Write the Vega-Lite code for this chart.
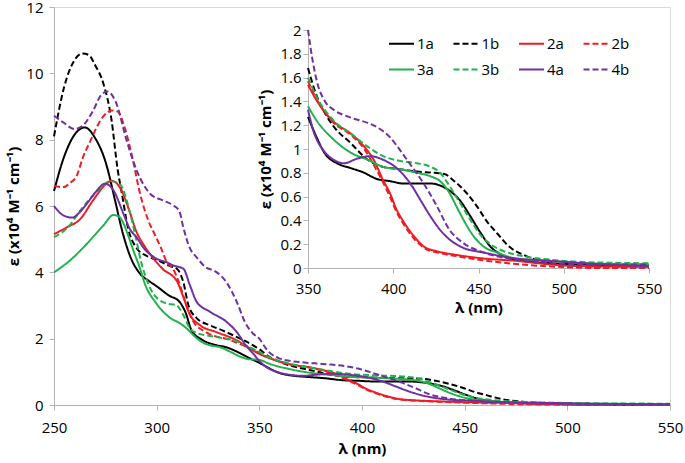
{
  "$schema": "https://vega.github.io/schema/vega-lite/v6.json",
  "width": 616,
  "height": 398,
  "autosize": {"type": "none"},
  "padding": {"left": 54, "top": 7, "right": 15, "bottom": 58},
  "background": "white",
  "config": {
    "view": {"stroke": "#d9d9d9", "strokeWidth": 1},
    "axis": {
      "domainColor": "#b3b3b3", "tickColor": "#b3b3b3", "tickSize": 5, "grid": false,
      "labelColor": "#000000", "labelFont": "Open Sans", "labelFontSize": 15,
      "titleFont": "Open Sans", "titleFontSize": 15, "titleFontWeight": "bold", "titleColor": "#000000",
      "labelFlush": false, "labelOverlap": false
    },
    "legend": {"labelFont": "Open Sans", "labelFontSize": 15, "labelColor": "#000000"}
  },
  "data": {"values": [
    {"s":"1a","x":250,"y":6.45},{"s":"1a","x":255,"y":7.5},{"s":"1a","x":260,"y":8.15},{"s":"1a","x":265,"y":8.37},{"s":"1a","x":270,"y":8.05},{"s":"1a","x":275,"y":7.35},{"s":"1a","x":280,"y":6.1},{"s":"1a","x":283,"y":5.3},{"s":"1a","x":287,"y":4.5},{"s":"1a","x":292,"y":3.95},{"s":"1a","x":296,"y":3.75},{"s":"1a","x":300,"y":3.58},{"s":"1a","x":306,"y":3.3},{"s":"1a","x":311,"y":3.12},{"s":"1a","x":314,"y":2.8},{"s":"1a","x":317,"y":2.25},{"s":"1a","x":322,"y":1.97},{"s":"1a","x":328,"y":1.82},{"s":"1a","x":334,"y":1.74},{"s":"1a","x":340,"y":1.58},{"s":"1a","x":345,"y":1.42},{"s":"1a","x":350,"y":1.27},{"s":"1a","x":355,"y":1.1},{"s":"1a","x":360,"y":0.96},{"s":"1a","x":367,"y":0.88},{"s":"1a","x":375,"y":0.84},{"s":"1a","x":383,"y":0.8},{"s":"1a","x":390,"y":0.75},{"s":"1a","x":398,"y":0.73},{"s":"1a","x":406,"y":0.71},{"s":"1a","x":414,"y":0.71},{"s":"1a","x":422,"y":0.71},{"s":"1a","x":428,"y":0.69},{"s":"1a","x":433,"y":0.65},{"s":"1a","x":439,"y":0.57},{"s":"1a","x":445,"y":0.44},{"s":"1a","x":451,"y":0.3},{"s":"1a","x":457,"y":0.18},{"s":"1a","x":465,"y":0.1},{"s":"1a","x":476,"y":0.06},{"s":"1a","x":492,"y":0.04},{"s":"1a","x":512,"y":0.03},{"s":"1a","x":550,"y":0.015},
    {"s":"1b","x":250,"y":8.1},{"s":"1b","x":255,"y":9.6},{"s":"1b","x":260,"y":10.4},{"s":"1b","x":264,"y":10.6},{"s":"1b","x":267,"y":10.55},{"s":"1b","x":270,"y":10.25},{"s":"1b","x":274,"y":9.7},{"s":"1b","x":278,"y":8.6},{"s":"1b","x":281,"y":7.1},{"s":"1b","x":283,"y":6.4},{"s":"1b","x":286,"y":5.35},{"s":"1b","x":290,"y":4.75},{"s":"1b","x":295,"y":4.5},{"s":"1b","x":301,"y":4.35},{"s":"1b","x":306,"y":4.2},{"s":"1b","x":310,"y":4.1},{"s":"1b","x":313,"y":3.7},{"s":"1b","x":315.5,"y":3.0},{"s":"1b","x":319.5,"y":2.62},{"s":"1b","x":326,"y":2.4},{"s":"1b","x":332,"y":2.25},{"s":"1b","x":338,"y":2.08},{"s":"1b","x":344,"y":1.9},{"s":"1b","x":350,"y":1.68},{"s":"1b","x":355,"y":1.45},{"s":"1b","x":360,"y":1.3},{"s":"1b","x":365,"y":1.19},{"s":"1b","x":375,"y":1.05},{"s":"1b","x":385,"y":0.91},{"s":"1b","x":394,"y":0.85},{"s":"1b","x":404,"y":0.83},{"s":"1b","x":414,"y":0.81},{"s":"1b","x":424,"y":0.8},{"s":"1b","x":430,"y":0.79},{"s":"1b","x":435,"y":0.74},{"s":"1b","x":443,"y":0.63},{"s":"1b","x":449,"y":0.52},{"s":"1b","x":455,"y":0.39},{"s":"1b","x":461,"y":0.29},{"s":"1b","x":468,"y":0.18},{"s":"1b","x":478,"y":0.1},{"s":"1b","x":492,"y":0.04},{"s":"1b","x":511,"y":0.015},{"s":"1b","x":530,"y":0.01},{"s":"1b","x":550,"y":0.01},
    {"s":"2a","x":250,"y":5.15},{"s":"2a","x":256,"y":5.35},{"s":"2a","x":263,"y":5.62},{"s":"2a","x":269,"y":6.17},{"s":"2a","x":275.5,"y":6.67},{"s":"2a","x":278,"y":6.76},{"s":"2a","x":282,"y":6.57},{"s":"2a","x":287,"y":5.8},{"s":"2a","x":290,"y":5.25},{"s":"2a","x":294,"y":4.8},{"s":"2a","x":298,"y":4.45},{"s":"2a","x":303,"y":4.1},{"s":"2a","x":310,"y":3.72},{"s":"2a","x":313,"y":3.25},{"s":"2a","x":316,"y":2.75},{"s":"2a","x":321,"y":2.41},{"s":"2a","x":329,"y":2.2},{"s":"2a","x":339,"y":1.95},{"s":"2a","x":345,"y":1.72},{"s":"2a","x":350,"y":1.54},{"s":"2a","x":355,"y":1.41},{"s":"2a","x":365,"y":1.23},{"s":"2a","x":375,"y":1.13},{"s":"2a","x":383,"y":1.02},{"s":"2a","x":388.5,"y":0.91},{"s":"2a","x":394,"y":0.74},{"s":"2a","x":398,"y":0.63},{"s":"2a","x":402,"y":0.49},{"s":"2a","x":406,"y":0.39},{"s":"2a","x":412,"y":0.27},{"s":"2a","x":418,"y":0.18},{"s":"2a","x":426,"y":0.14},{"s":"2a","x":437,"y":0.11},{"s":"2a","x":453,"y":0.08},{"s":"2a","x":472,"y":0.06},{"s":"2a","x":492,"y":0.03},{"s":"2a","x":510,"y":0.015},{"s":"2a","x":550,"y":0.01},
    {"s":"2b","x":250,"y":6.6},{"s":"2b","x":254.5,"y":6.57},{"s":"2b","x":258,"y":6.7},{"s":"2b","x":261,"y":6.9},{"s":"2b","x":264,"y":7.45},{"s":"2b","x":268,"y":8.0},{"s":"2b","x":271,"y":8.4},{"s":"2b","x":274,"y":8.7},{"s":"2b","x":278,"y":8.88},{"s":"2b","x":281,"y":8.85},{"s":"2b","x":284,"y":8.45},{"s":"2b","x":288,"y":7.5},{"s":"2b","x":292,"y":6.35},{"s":"2b","x":296,"y":5.55},{"s":"2b","x":299,"y":5.15},{"s":"2b","x":302,"y":4.75},{"s":"2b","x":305,"y":4.3},{"s":"2b","x":308,"y":4.1},{"s":"2b","x":311.4,"y":3.6},{"s":"2b","x":314,"y":3.1},{"s":"2b","x":318,"y":2.5},{"s":"2b","x":324,"y":2.2},{"s":"2b","x":336,"y":1.95},{"s":"2b","x":344,"y":1.75},{"s":"2b","x":350,"y":1.57},{"s":"2b","x":355,"y":1.42},{"s":"2b","x":365,"y":1.22},{"s":"2b","x":375,"y":1.12},{"s":"2b","x":383,"y":1.0},{"s":"2b","x":388,"y":0.88},{"s":"2b","x":394,"y":0.72},{"s":"2b","x":398,"y":0.6},{"s":"2b","x":402,"y":0.47},{"s":"2b","x":406,"y":0.37},{"s":"2b","x":412,"y":0.25},{"s":"2b","x":418,"y":0.17},{"s":"2b","x":426,"y":0.13},{"s":"2b","x":437,"y":0.1},{"s":"2b","x":450,"y":0.07},{"s":"2b","x":475,"y":0.03},{"s":"2b","x":500,"y":0.008},{"s":"2b","x":520,"y":0.0},{"s":"2b","x":550,"y":0.0},
    {"s":"3a","x":250,"y":4.0},{"s":"3a","x":257.8,"y":4.36},{"s":"3a","x":266,"y":4.86},{"s":"3a","x":274,"y":5.41},{"s":"3a","x":279,"y":5.73},{"s":"3a","x":282,"y":5.66},{"s":"3a","x":285,"y":5.3},{"s":"3a","x":287,"y":4.96},{"s":"3a","x":289,"y":4.6},{"s":"3a","x":292,"y":4.1},{"s":"3a","x":294,"y":3.7},{"s":"3a","x":300,"y":3.05},{"s":"3a","x":306.5,"y":2.63},{"s":"3a","x":311.4,"y":2.46},{"s":"3a","x":314.6,"y":2.31},{"s":"3a","x":318,"y":2.1},{"s":"3a","x":322,"y":1.9},{"s":"3a","x":326,"y":1.8},{"s":"3a","x":331,"y":1.74},{"s":"3a","x":336,"y":1.6},{"s":"3a","x":341,"y":1.45},{"s":"3a","x":345,"y":1.38},{"s":"3a","x":350,"y":1.36},{"s":"3a","x":355,"y":1.24},{"s":"3a","x":365,"y":1.08},{"s":"3a","x":375,"y":0.97},{"s":"3a","x":385,"y":0.91},{"s":"3a","x":394,"y":0.85},{"s":"3a","x":404,"y":0.83},{"s":"3a","x":414,"y":0.8},{"s":"3a","x":422,"y":0.77},{"s":"3a","x":427.5,"y":0.73},{"s":"3a","x":433,"y":0.63},{"s":"3a","x":437,"y":0.52},{"s":"3a","x":441,"y":0.41},{"s":"3a","x":447,"y":0.27},{"s":"3a","x":453,"y":0.18},{"s":"3a","x":461,"y":0.13},{"s":"3a","x":472,"y":0.08},{"s":"3a","x":492,"y":0.06},{"s":"3a","x":512,"y":0.04},{"s":"3a","x":550,"y":0.03},
    {"s":"3b","x":250,"y":5.06},{"s":"3b","x":256,"y":5.31},{"s":"3b","x":264,"y":5.96},{"s":"3b","x":272.4,"y":6.52},{"s":"3b","x":277.3,"y":6.75},{"s":"3b","x":282,"y":6.67},{"s":"3b","x":287,"y":5.8},{"s":"3b","x":290,"y":5.0},{"s":"3b","x":292.5,"y":4.3},{"s":"3b","x":295,"y":3.8},{"s":"3b","x":298.4,"y":3.35},{"s":"3b","x":304.9,"y":3.06},{"s":"3b","x":309.7,"y":3.01},{"s":"3b","x":313,"y":2.71},{"s":"3b","x":316.2,"y":2.31},{"s":"3b","x":320,"y":2.16},{"s":"3b","x":327,"y":2.07},{"s":"3b","x":339,"y":1.92},{"s":"3b","x":345,"y":1.75},{"s":"3b","x":350,"y":1.6},{"s":"3b","x":355,"y":1.44},{"s":"3b","x":365,"y":1.24},{"s":"3b","x":375,"y":1.13},{"s":"3b","x":385,"y":1.02},{"s":"3b","x":394,"y":0.94},{"s":"3b","x":404,"y":0.9},{"s":"3b","x":414,"y":0.88},{"s":"3b","x":422,"y":0.85},{"s":"3b","x":427.5,"y":0.8},{"s":"3b","x":433,"y":0.69},{"s":"3b","x":439,"y":0.55},{"s":"3b","x":445,"y":0.41},{"s":"3b","x":451,"y":0.28},{"s":"3b","x":457,"y":0.2},{"s":"3b","x":465,"y":0.14},{"s":"3b","x":476,"y":0.1},{"s":"3b","x":492,"y":0.07},{"s":"3b","x":512,"y":0.05},{"s":"3b","x":550,"y":0.04},
    {"s":"4a","x":250,"y":6.0},{"s":"4a","x":254.5,"y":5.72},{"s":"4a","x":259,"y":5.65},{"s":"4a","x":262,"y":5.78},{"s":"4a","x":266,"y":6.07},{"s":"4a","x":270,"y":6.4},{"s":"4a","x":274.8,"y":6.67},{"s":"4a","x":279,"y":6.47},{"s":"4a","x":283.8,"y":5.77},{"s":"4a","x":287,"y":5.3},{"s":"4a","x":290.3,"y":5.05},{"s":"4a","x":293.5,"y":4.75},{"s":"4a","x":300,"y":4.41},{"s":"4a","x":305,"y":4.3},{"s":"4a","x":308,"y":4.21},{"s":"4a","x":313,"y":4.11},{"s":"4a","x":316.2,"y":3.61},{"s":"4a","x":319.5,"y":3.11},{"s":"4a","x":326,"y":2.81},{"s":"4a","x":334,"y":2.51},{"s":"4a","x":339,"y":2.2},{"s":"4a","x":344,"y":1.75},{"s":"4a","x":347,"y":1.55},{"s":"4a","x":350,"y":1.33},{"s":"4a","x":353,"y":1.16},{"s":"4a","x":359,"y":0.99},{"s":"4a","x":365,"y":0.91},{"s":"4a","x":371,"y":0.88},{"s":"4a","x":379,"y":0.92},{"s":"4a","x":386.5,"y":0.94},{"s":"4a","x":394,"y":0.91},{"s":"4a","x":402,"y":0.84},{"s":"4a","x":410,"y":0.71},{"s":"4a","x":416,"y":0.57},{"s":"4a","x":422,"y":0.43},{"s":"4a","x":427.5,"y":0.32},{"s":"4a","x":433,"y":0.24},{"s":"4a","x":441,"y":0.17},{"s":"4a","x":453,"y":0.13},{"s":"4a","x":472,"y":0.08},{"s":"4a","x":492,"y":0.06},{"s":"4a","x":512,"y":0.04},{"s":"4a","x":550,"y":0.015},
    {"s":"4b","x":250,"y":8.72},{"s":"4b","x":254.5,"y":8.52},{"s":"4b","x":260,"y":8.32},{"s":"4b","x":264,"y":8.42},{"s":"4b","x":269,"y":8.87},{"s":"4b","x":273,"y":9.35},{"s":"4b","x":276,"y":9.45},{"s":"4b","x":280,"y":9.15},{"s":"4b","x":285.4,"y":7.97},{"s":"4b","x":290.3,"y":7.07},{"s":"4b","x":296.8,"y":6.37},{"s":"4b","x":303,"y":6.17},{"s":"4b","x":308,"y":6.02},{"s":"4b","x":311,"y":5.85},{"s":"4b","x":313,"y":5.35},{"s":"4b","x":316,"y":4.75},{"s":"4b","x":319.5,"y":4.45},{"s":"4b","x":324,"y":4.15},{"s":"4b","x":328,"y":4.05},{"s":"4b","x":334,"y":3.7},{"s":"4b","x":339,"y":3.11},{"s":"4b","x":343,"y":2.5},{"s":"4b","x":347,"y":2.15},{"s":"4b","x":350,"y":2.0},{"s":"4b","x":353,"y":1.72},{"s":"4b","x":355,"y":1.58},{"s":"4b","x":360,"y":1.4},{"s":"4b","x":365,"y":1.33},{"s":"4b","x":372,"y":1.28},{"s":"4b","x":378,"y":1.25},{"s":"4b","x":385,"y":1.22},{"s":"4b","x":392,"y":1.17},{"s":"4b","x":398,"y":1.1},{"s":"4b","x":404,"y":0.99},{"s":"4b","x":410,"y":0.87},{"s":"4b","x":416,"y":0.75},{"s":"4b","x":420,"y":0.66},{"s":"4b","x":425.6,"y":0.52},{"s":"4b","x":433,"y":0.32},{"s":"4b","x":441,"y":0.21},{"s":"4b","x":453,"y":0.13},{"s":"4b","x":472,"y":0.07},{"s":"4b","x":492,"y":0.04},{"s":"4b","x":520,"y":0.03},{"s":"4b","x":550,"y":0.03}
  ]},
  "layer": [
    {
      "mark": {"type": "line", "interpolate": "monotone", "strokeWidth": 2},
      "encoding": {
        "x": {"field": "x", "type": "quantitative",
          "scale": {"domain": [250, 550], "nice": false, "zero": false},
          "axis": {"values": [250, 300, 350, 400, 450, 500, 550], "title": "λ (nm)", "labelPadding": 10, "titlePadding": 6}},
        "y": {"field": "y", "type": "quantitative",
          "scale": {"domain": [0, 12], "nice": false},
          "axis": {"values": [0, 2, 4, 6, 8, 10, 12], "title": "ε (x10⁴ M⁻¹ cm⁻¹)", "labelPadding": 6, "titlePadding": 4}},
        "color": {"field": "s", "type": "nominal",
          "scale": {"domain": ["1a","1b","2a","2b","3a","3b","4a","4b"],
            "range": ["#000000","#000000","#ee1c25","#ee1c25","#22b14c","#22b14c","#7030a0","#7030a0"]},
          "legend": {"orient": "none", "legendX": 334, "legendY": 23, "direction": "horizontal", "columns": 4, "title": null,
            "symbolType": "stroke", "symbolSize": 625, "symbolStrokeWidth": 2, "labelOffset": 2, "columnPadding": 15.5, "rowPadding": 4, "padding": 0}},
        "strokeDash": {"field": "s", "type": "nominal",
          "scale": {"domain": ["1a","1b","2a","2b","3a","3b","4a","4b"],
            "range": [[1,0],[6,3],[1,0],[6,3],[1,0],[6,3],[1,0],[6,3]]},
          "legend": {"orient": "none", "legendX": 334, "legendY": 23, "direction": "horizontal", "columns": 4, "title": null,
            "symbolType": "stroke", "symbolSize": 625, "symbolStrokeWidth": 2, "labelOffset": 2, "columnPadding": 15.5, "rowPadding": 4, "padding": 0}}
      }
    },
    {
      "transform": [{"filter": "datum.x >= 350"}],
      "mark": {"type": "line", "interpolate": "monotone", "strokeWidth": 2},
      "encoding": {
        "x": {"field": "x", "type": "quantitative",
          "scale": {"domain": [350, 550], "range": [254, 595], "nice": false, "zero": false},
          "axis": {"orient": "bottom", "offset": -137, "values": [350, 400, 450, 500, 550], "title": "λ (nm)", "labelPadding": 8, "titlePadding": 4}},
        "y": {"field": "y", "type": "quantitative",
          "scale": {"domain": [0, 2], "range": [261, 23], "nice": false},
          "axis": {"orient": "left", "offset": -254, "values": [0, 0.2, 0.4, 0.6, 0.8, 1, 1.2, 1.4, 1.6, 1.8, 2], "format": "~g", "title": "ε (x10⁴ M⁻¹ cm⁻¹)", "labelPadding": 2, "titlePadding": 6}},
        "color": {"field": "s", "type": "nominal"},
        "strokeDash": {"field": "s", "type": "nominal"}
      }
    }
  ],
  "resolve": {"scale": {"x": "independent", "y": "independent"}}
}
